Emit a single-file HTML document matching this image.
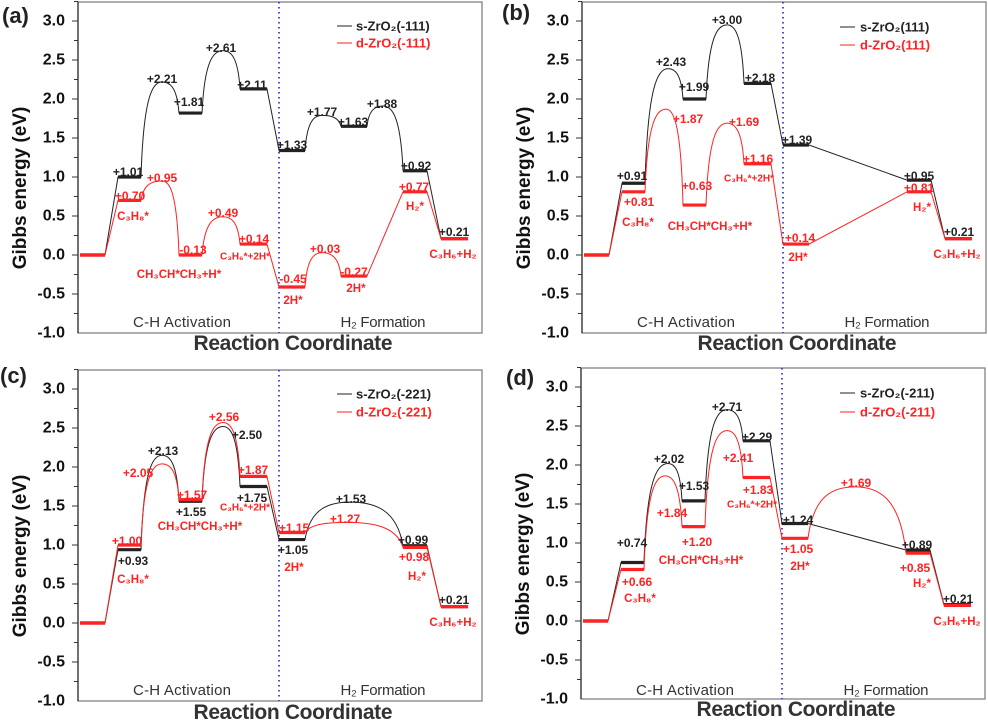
<!DOCTYPE html>
<html><head><meta charset="utf-8"><style>
html,body{margin:0;padding:0;background:#fff;}
svg{display:block;font-family:"Liberation Sans",sans-serif;}
.tk{font-size:16px;font-weight:bold;fill:#111;text-anchor:end;dominant-baseline:central;}
.yt{font-size:19px;font-weight:bold;fill:#111;text-anchor:middle;}
.pl{font-size:22px;font-weight:bold;fill:#222;}
.rc{font-size:21px;font-weight:bold;fill:#333;text-anchor:middle;}
.st{font-size:15px;fill:#333;text-anchor:middle;}
.lg{font-size:13px;font-weight:bold;dominant-baseline:central;}
.b{font-size:12px;font-weight:bold;fill:#222;text-anchor:middle;dominant-baseline:central;}
.r{font-size:12px;font-weight:bold;fill:#f22;text-anchor:middle;dominant-baseline:central;}
.m{font-size:11.5px;font-weight:bold;fill:#f22;text-anchor:middle;dominant-baseline:central;}
</style></head><body>
<svg id="s" width="988" height="720" viewBox="0 0 988 720" xmlns="http://www.w3.org/2000/svg">
<rect width="988" height="720" fill="#fff"/>

<g id="pa" transform="translate(78,2)">
<text class="tk" x="-13" y="19">3.0</text><text class="tk" x="-13" y="58">2.5</text><text class="tk" x="-13" y="97">2.0</text><text class="tk" x="-13" y="136">1.5</text><text class="tk" x="-13" y="175">1.0</text><text class="tk" x="-13" y="214">0.5</text><text class="tk" x="-13" y="253">0.0</text><text class="tk" x="-13" y="292">-0.5</text><text class="tk" x="-13" y="331">-1.0</text>
<text class="yt" transform="translate(-52,186) rotate(-90)">Gibbs energy (eV)</text>
<text class="pl" x="-76" y="21">(a)</text>
<text class="rc" x="215" y="348" textLength="199">Reaction Coordinate</text>
<text class="st" x="104" y="325" textLength="98">C-H  Activation</text>
<text class="st" x="305" y="325" textLength="85">H₂ Formation</text>
<line x1="259" x2="274" y1="24" y2="24" stroke="#222"/><line x1="259" x2="274" y1="41" y2="41" stroke="#f22"/>
<text class="lg" x="278" y="24" fill="#222">s-ZrO₂(-111)</text><text class="lg" x="278" y="41" fill="#f22">d-ZrO₂(-111)</text>
</g>
<g id="pb" transform="translate(582,2)">
<text class="tk" x="-13" y="19">3.0</text><text class="tk" x="-13" y="58">2.5</text><text class="tk" x="-13" y="97">2.0</text><text class="tk" x="-13" y="136">1.5</text><text class="tk" x="-13" y="175">1.0</text><text class="tk" x="-13" y="214">0.5</text><text class="tk" x="-13" y="253">0.0</text><text class="tk" x="-13" y="292">-0.5</text><text class="tk" x="-13" y="331">-1.0</text>
<text class="yt" transform="translate(-52,186) rotate(-90)">Gibbs energy (eV)</text>
<text class="pl" x="-80" y="18">(b)</text>
<text class="rc" x="215" y="348" textLength="199">Reaction Coordinate</text>
<text class="st" x="104" y="325" textLength="98">C-H  Activation</text>
<text class="st" x="305" y="325" textLength="85">H₂ Formation</text>
<line x1="258" x2="273" y1="25" y2="25" stroke="#222"/><line x1="258" x2="273" y1="43" y2="43" stroke="#f22"/>
<text class="lg" x="278" y="25" fill="#222">s-ZrO₂(111)</text><text class="lg" x="278" y="43" fill="#f22">d-ZrO₂(111)</text>
</g>
<g id="pc" transform="translate(78,370)">
<text class="tk" x="-13" y="19">3.0</text><text class="tk" x="-13" y="58">2.5</text><text class="tk" x="-13" y="97">2.0</text><text class="tk" x="-13" y="136">1.5</text><text class="tk" x="-13" y="175">1.0</text><text class="tk" x="-13" y="214">0.5</text><text class="tk" x="-13" y="253">0.0</text><text class="tk" x="-13" y="292">-0.5</text><text class="tk" x="-13" y="331">-1.0</text>
<text class="yt" transform="translate(-52,186) rotate(-90)">Gibbs energy (eV)</text>
<text class="pl" x="-78" y="13">(c)</text>
<text class="rc" x="215" y="349" textLength="199">Reaction Coordinate</text>
<text class="st" x="104" y="325" textLength="98">C-H  Activation</text>
<text class="st" x="305" y="325" textLength="85">H₂ Formation</text>
<line x1="259" x2="274" y1="24" y2="24" stroke="#222"/><line x1="259" x2="274" y1="42" y2="42" stroke="#f22"/>
<text class="lg" x="278" y="24" fill="#222">s-ZrO₂(-221)</text><text class="lg" x="278" y="42" fill="#f22">d-ZrO₂(-221)</text>
</g>
<g id="pd" transform="translate(581,368)">
<text class="tk" x="-13" y="19">3.0</text><text class="tk" x="-13" y="58">2.5</text><text class="tk" x="-13" y="97">2.0</text><text class="tk" x="-13" y="136">1.5</text><text class="tk" x="-13" y="175">1.0</text><text class="tk" x="-13" y="214">0.5</text><text class="tk" x="-13" y="253">0.0</text><text class="tk" x="-13" y="292">-0.5</text><text class="tk" x="-13" y="331">-1.0</text>
<text class="yt" transform="translate(-52,186) rotate(-90)">Gibbs energy (eV)</text>
<text class="pl" x="-75" y="17">(d)</text>
<text class="rc" x="215" y="348" textLength="199">Reaction Coordinate</text>
<text class="st" x="104" y="327" textLength="98">C-H  Activation</text>
<text class="st" x="305" y="327" textLength="85">H₂ Formation</text>
<line x1="259" x2="274" y1="25" y2="25" stroke="#222"/><line x1="259" x2="274" y1="44" y2="44" stroke="#f22"/>
<text class="lg" x="279" y="25" fill="#222">s-ZrO₂(-211)</text><text class="lg" x="279" y="44" fill="#f22">d-ZrO₂(-211)</text>
</g>

<g>
<text class="b" x="128" y="172">+1.01</text><text class="b" x="162" y="79">+2.21</text><text class="b" x="189" y="102">+1.81</text><text class="b" x="221" y="48">+2.61</text><text class="b" x="252" y="85">+2.11</text><text class="b" x="292" y="145">+1.33</text><text class="b" x="322" y="112">+1.77</text><text class="b" x="353" y="122">+1.63</text><text class="b" x="382" y="104">+1.88</text><text class="b" x="416" y="166">+0.92</text><text class="b" x="454" y="232">+0.21</text>
<text class="r" x="130" y="196">+0.70</text><text class="m" x="133" y="217">C₃H₈*</text><text class="r" x="162" y="178">+0.95</text><text class="r" x="193" y="250">-0.13</text><text class="m" x="179" y="275">CH₃CH*CH₃+H*</text><text class="r" x="223" y="213">+0.49</text><text class="r" x="254" y="239">+0.14</text><text class="m" x="245" y="257" style="font-size:10px">C₃H₆*+2H*</text><text class="r" x="293" y="279">-0.45</text><text class="m" x="293" y="301">2H*</text><text class="r" x="325" y="249">+0.03</text><text class="r" x="354" y="272">-0.27</text><text class="m" x="356" y="289">2H*</text><text class="r" x="414" y="187">+0.77</text><text class="m" x="415" y="207">H₂*</text><text class="m" x="453" y="255">C₃H₆+H₂</text>

<text class="b" x="632" y="176">+0.91</text><text class="b" x="671" y="62">+2.43</text><text class="b" x="694" y="87">+1.99</text><text class="b" x="727" y="20">+3.00</text><text class="b" x="760" y="78">+2.18</text><text class="b" x="797" y="140">+1.39</text><text class="b" x="919" y="176">+0.95</text><text class="b" x="959" y="232">+0.21</text>
<text class="r" x="639" y="202">+0.81</text><text class="m" x="638" y="223">C₃H₈*</text><text class="r" x="688" y="119">+1.87</text><text class="r" x="697" y="186">+0.63</text><text class="m" x="710" y="227">CH₃CH*CH₃+H*</text><text class="r" x="744" y="122">+1.69</text><text class="r" x="758" y="159">+1.16</text><text class="m" x="749" y="179" style="font-size:10px">C₃H₆*+2H*</text><text class="r" x="800" y="238">+0.14</text><text class="m" x="798" y="258">2H*</text><text class="r" x="919" y="188">+0.81</text><text class="m" x="922" y="208">H₂*</text><text class="m" x="957" y="255">C₃H₆+H₂</text>

<text class="b" x="133" y="561">+0.93</text><text class="b" x="163" y="451">+2.13</text><text class="b" x="191" y="512">+1.55</text><text class="b" x="247" y="435">+2.50</text><text class="b" x="252" y="498">+1.75</text><text class="b" x="293" y="550">+1.05</text><text class="b" x="351" y="499">+1.53</text><text class="b" x="413" y="540">+0.99</text><text class="b" x="454" y="600">+0.21</text>
<text class="r" x="127" y="541">+1.00</text><text class="m" x="133" y="580">C₃H₈*</text><text class="r" x="138" y="473">+2.05</text><text class="r" x="192" y="495">+1.57</text><text class="m" x="200" y="527">CH₃CH*CH₃+H*</text><text class="r" x="224" y="417">+2.56</text><text class="r" x="253" y="470">+1.87</text><text class="m" x="245" y="508" style="font-size:10px">C₃H₆*+2H*</text><text class="r" x="294" y="528">+1.15</text><text class="m" x="294" y="568">2H*</text><text class="r" x="345" y="519">+1.27</text><text class="r" x="414" y="557">+0.98</text><text class="m" x="417" y="577">H₂*</text><text class="m" x="453" y="623">C₃H₆+H₂</text>

<text class="b" x="632" y="543">+0.74</text><text class="b" x="669" y="459">+2.02</text><text class="b" x="694" y="486">+1.53</text><text class="b" x="727" y="407">+2.71</text><text class="b" x="757" y="437">+2.29</text><text class="b" x="798" y="520">+1.24</text><text class="b" x="917" y="545">+0.89</text><text class="b" x="958" y="599">+0.21</text>
<text class="r" x="637" y="582">+0.66</text><text class="m" x="640" y="599">C₃H₈*</text><text class="r" x="672" y="513">+1.84</text><text class="r" x="697" y="542">+1.20</text><text class="m" x="701" y="561">CH₃CH*CH₃+H*</text><text class="r" x="738" y="458">+2.41</text><text class="r" x="758" y="490">+1.83</text><text class="m" x="752" y="505" style="font-size:10px">C₃H₆*+2H*</text><text class="r" x="798" y="549">+1.05</text><text class="m" x="800" y="567">2H*</text><text class="r" x="856" y="483">+1.69</text><text class="r" x="915" y="568">+0.85</text><text class="m" x="922" y="584">H₂*</text><text class="m" x="957" y="622">C₃H₆+H₂</text>
</g>
</svg>
<script>
(function(){
var NS="http://www.w3.org/2000/svg";
var LV=[[2,27],[40,63],[101,124],[162,189],[201,227],[263,289],[325,349],[363,390]];
function Y(e){return 253-78*e;}
function add(g,t,a){var e=document.createElementNS(NS,t);for(var k in a)e.setAttribute(k,a[k]);g.appendChild(e);return e;}
function frame(g){
  add(g,"rect",{x:0,y:0,width:404,height:331,fill:"none",stroke:"#777","stroke-width":1.2});
  add(g,"line",{x1:0,x2:0,y1:0,y2:331,stroke:"#333","stroke-width":1.3});
  for(var i=0;i<=16;i++){var e=3.25-0.25*i;if(e<-1)break;var y=Y(e);var big=(Math.round(e*100)%50===0);
    add(g,"line",{x1:big?-6:-4,x2:0,y1:y,y2:y,stroke:"#333","stroke-width":1});}
  add(g,"line",{x1:201,x2:201,y1:0,y2:331,stroke:"#3a3ad0","stroke-width":1.8,"stroke-dasharray":"1.5 3.5"});
}
function series(g,lv,cn,col){
  var d="";var bars=[];
  for(var i=0;i<lv.length;i++){
    var r=LV[lv[i][0]],y=Y(lv[i][1]);
    if(i===0)d+="M"+r[0]+","+y;
    else{
      var p=LV[lv[i-1][0]],py=Y(lv[i-1][1]),c=cn[i-1];
      if(!c)d+=" L"+r[0]+","+y;
      else{
        var x1=p[1],y1=py,xp=c[0],yp=Y(c[1]),x2=r[0],y2=y,d1=xp-x1,d2=x2-xp;
        d+=" C"+(x1+0.12*d1)+","+(y1+0.85*(yp-y1))+" "+(xp-0.45*d1)+","+yp+" "+xp+","+yp;
        d+=" C"+(xp+0.45*d2)+","+yp+" "+(x2-0.12*d2)+","+(y2+0.85*(yp-y2))+" "+x2+","+y2;
      }
    }
    d+=" L"+r[1]+","+y;
    bars.push([r[0],r[1],y]);
  }
  add(g,"path",{d:d,fill:"none",stroke:col,"stroke-width":1});
  bars.forEach(function(b){add(g,"line",{x1:b[0],x2:b[1],y1:b[2],y2:b[2],stroke:col,"stroke-width":3.2});});
}
var K="#222",R="#f22";
var P={
 pa:[[[[0,0],[1,1.00],[2,1.82],[3,2.13],[4,1.34],[5,1.65],[6,1.08],[7,0.21]],[null,[84,2.22],[145,2.62],null,[244,1.79],[305,1.91],null]],
     [[[0,0],[1,0.70],[2,0.0],[3,0.14],[4,-0.41],[5,-0.27],[6,0.81],[7,0.21]],[null,[84,0.95],[145,0.49],null,[244,0.03],null,null]]],
 pb:[[[[0,0],[1,0.92],[2,2.00],[3,2.20],[4,1.41],[6,0.96],[7,0.21]],[null,[86,2.39],[145,2.95],null,null,null]],
     [[[0,0],[1,0.81],[2,0.64],[3,1.17],[4,0.14],[6,0.81],[7,0.21]],[null,[84,1.87],[145,1.69],null,null,null]]],
 pc:[[[[0,0],[1,0.94],[2,1.56],[3,1.75],[4,1.07],[6,0.99],[7,0.21]],[null,[84,2.15],[145,2.52],null,[272,1.55],null]],
     [[[0,0],[1,1.00],[2,1.58],[3,1.88],[4,1.16],[6,0.97],[7,0.21]],[null,[84,2.04],[145,2.57],null,[269,1.29],null]]],
 pd:[[[[0,0],[1,0.75],[2,1.54],[3,2.31],[4,1.25],[6,0.91],[7,0.21]],[null,[87,2.02],[146,2.71],null,null,null]],
     [[[0,0],[1,0.66],[2,1.21],[3,1.84],[4,1.06],[6,0.87],[7,0.20]],[null,[84,1.86],[146,2.44],null,[274,1.72],null]]]
};
for(var id in P){var g=document.getElementById(id);frame(g);series(g,P[id][0][0],P[id][0][1],K);series(g,P[id][1][0],P[id][1][1],R);}
})();
</script>
</body></html>
